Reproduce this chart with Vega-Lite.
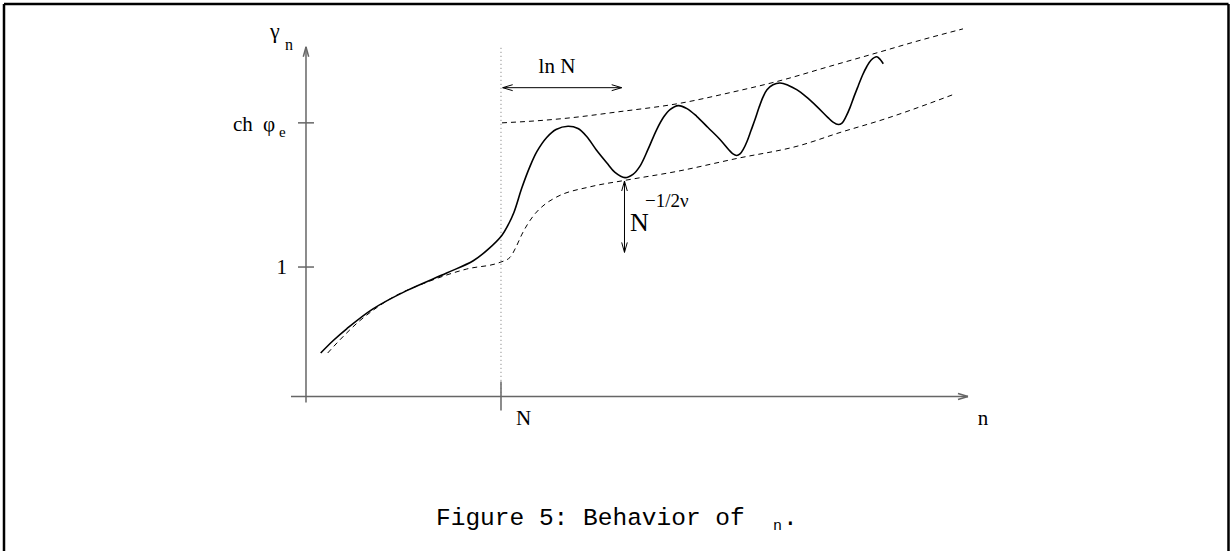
{
  "$schema": "https://vega.github.io/schema/vega-lite/v6.json",
  "width": 1230,
  "height": 553,
  "padding": 0,
  "autosize": {"type": "fit", "contains": "padding"},
  "background": "white",
  "config": {"view": {"stroke": null}},
  "datasets": {
    "curves": [
      {"s":"solid","n":0.0754,"g":0.3362},{"s":"solid","n":0.1385,"g":0.4308},{"s":"solid","n":0.2087,"g":0.5231},{"s":"solid","n":0.3436,"g":0.6769},{"s":"solid","n":0.5164,"g":0.8177},{"s":"solid","n":0.7215,"g":0.9538},{"s":"solid","n":0.8579,"g":1.0485},{"s":"solid","n":0.9349,"g":1.1385},{"s":"solid","n":1.0051,"g":1.2462},{"s":"solid","n":1.0359,"g":1.3231},{"s":"solid","n":1.0667,"g":1.4231},{"s":"solid","n":1.1062,"g":1.6077},{"s":"solid","n":1.1487,"g":1.7769},{"s":"solid","n":1.1846,"g":1.8923},{"s":"solid","n":1.2344,"g":2.0},{"s":"solid","n":1.2821,"g":2.0615},{"s":"solid","n":1.3436,"g":2.0869},{"s":"solid","n":1.3949,"g":2.0692},{"s":"solid","n":1.4395,"g":2.0077},{"s":"solid","n":1.4872,"g":1.9077},{"s":"solid","n":1.5421,"g":1.8054},{"s":"solid","n":1.5846,"g":1.7308},{"s":"solid","n":1.6359,"g":1.69},{"s":"solid","n":1.6769,"g":1.7154},{"s":"solid","n":1.7128,"g":1.7792},{"s":"solid","n":1.7538,"g":1.9077},{"s":"solid","n":1.7985,"g":2.0615},{"s":"solid","n":1.8359,"g":2.1615},{"s":"solid","n":1.8667,"g":2.2154},{"s":"solid","n":1.9092,"g":2.2462},{"s":"solid","n":1.9538,"g":2.2231},{"s":"solid","n":2.0036,"g":2.1638},{"s":"solid","n":2.0615,"g":2.0769},{"s":"solid","n":2.1231,"g":1.9846},{"s":"solid","n":2.1692,"g":1.9038},{"s":"solid","n":2.1897,"g":1.8731},{"s":"solid","n":2.2087,"g":1.8615},{"s":"solid","n":2.2256,"g":1.8731},{"s":"solid","n":2.2436,"g":1.9115},{"s":"solid","n":2.2615,"g":1.9692},{"s":"solid","n":2.2821,"g":2.0538},{"s":"solid","n":2.3026,"g":2.1385},{"s":"solid","n":2.3231,"g":2.2308},{"s":"solid","n":2.3436,"g":2.3115},{"s":"solid","n":2.3641,"g":2.3692},{"s":"solid","n":2.3949,"g":2.4077},{"s":"solid","n":2.4308,"g":2.4208},{"s":"solid","n":2.4718,"g":2.4038},{"s":"solid","n":2.5164,"g":2.3692},{"s":"solid","n":2.5641,"g":2.3154},{"s":"solid","n":2.619,"g":2.2408},{"s":"solid","n":2.6769,"g":2.1538},{"s":"solid","n":2.7026,"g":2.1192},{"s":"solid","n":2.7297,"g":2.1},{"s":"solid","n":2.7487,"g":2.1115},{"s":"solid","n":2.7692,"g":2.1615},{"s":"solid","n":2.7897,"g":2.2308},{"s":"solid","n":2.8103,"g":2.3154},{"s":"solid","n":2.8323,"g":2.4},{"s":"solid","n":2.8538,"g":2.4808},{"s":"solid","n":2.8754,"g":2.5462},{"s":"solid","n":2.8974,"g":2.5962},{"s":"solid","n":2.9267,"g":2.6231},{"s":"solid","n":2.9436,"g":2.6038},{"s":"solid","n":2.9605,"g":2.5692},
      {"s":"upper","n":1.0051,"g":2.1131},{"s":"upper","n":1.2,"g":2.1308},{"s":"upper","n":1.3436,"g":2.15},{"s":"upper","n":1.6103,"g":2.2},{"s":"upper","n":1.9077,"g":2.2615},{"s":"upper","n":2.1744,"g":2.3462},{"s":"upper","n":2.4308,"g":2.4385},{"s":"upper","n":2.6872,"g":2.55},{"s":"upper","n":2.9282,"g":2.6538},{"s":"upper","n":3.1487,"g":2.75},{"s":"upper","n":3.3692,"g":2.8385},
      {"s":"lower","n":0.1113,"g":0.3362},{"s":"lower","n":0.1744,"g":0.4385},{"s":"lower","n":0.2769,"g":0.5869},{"s":"lower","n":0.3538,"g":0.6769},{"s":"lower","n":0.4308,"g":0.7538},{"s":"lower","n":0.619,"g":0.8823},{"s":"lower","n":0.8241,"g":0.9846},{"s":"lower","n":0.9949,"g":1.0362},{"s":"lower","n":1.0462,"g":1.0746},{"s":"lower","n":1.0769,"g":1.1538},{"s":"lower","n":1.1077,"g":1.2538},{"s":"lower","n":1.1656,"g":1.3946},{"s":"lower","n":1.2256,"g":1.4846},{"s":"lower","n":1.2856,"g":1.5408},{"s":"lower","n":1.4564,"g":1.6192},{"s":"lower","n":1.6359,"g":1.6692},{"s":"lower","n":1.9026,"g":1.7385},{"s":"lower","n":2.2103,"g":1.8385},{"s":"lower","n":2.5333,"g":1.9385},{"s":"lower","n":2.7385,"g":2.0385},{"s":"lower","n":2.959,"g":2.1385},{"s":"lower","n":3.3179,"g":2.3308}
    ],
    "segs": [
      {"k":"axis","n":0,"g":-0.0462,"n2":0,"g2":2.7},
      {"k":"axis","n":-0.0138,"g":2.6231,"n2":0,"g2":2.7},
      {"k":"axis","n":0.0138,"g":2.6231,"n2":0,"g2":2.7},
      {"k":"axis","n":-0.0769,"g":0,"n2":3.3949,"g2":0},
      {"k":"axis","n":3.3436,"g":0.0231,"n2":3.3949,"g2":0},
      {"k":"axis","n":3.3436,"g":-0.0231,"n2":3.3949,"g2":0},
      {"k":"axis","n":-0.041,"g":1,"n2":0.041,"g2":1},
      {"k":"axis","n":-0.041,"g":2.1131,"n2":0.041,"g2":2.1131},
      {"k":"axis","n":1,"g":0.1154,"n2":1,"g2":-0.1077},
      {"k":"arrow","n":1.0087,"g":2.3846,"n2":1.619,"g2":2.3846},
      {"k":"arrow","n":1.06,"g":2.4077,"n2":1.0087,"g2":2.3846},
      {"k":"arrow","n":1.06,"g":2.3615,"n2":1.0087,"g2":2.3846},
      {"k":"arrow","n":1.5677,"g":2.4077,"n2":1.619,"g2":2.3846},
      {"k":"arrow","n":1.5677,"g":2.3615,"n2":1.619,"g2":2.3846},
      {"k":"arrow","n":1.6333,"g":1.6638,"n2":1.6333,"g2":1.1131},
      {"k":"arrow","n":1.619,"g":1.5869,"n2":1.6333,"g2":1.6638},
      {"k":"arrow","n":1.6477,"g":1.5869,"n2":1.6333,"g2":1.6638},
      {"k":"arrow","n":1.619,"g":1.19,"n2":1.6333,"g2":1.1131},
      {"k":"arrow","n":1.6477,"g":1.19,"n2":1.6333,"g2":1.1131},
      {"k":"dotted","n":1,"g":2.6923,"n2":1,"g2":0},
      {"k":"border","n":-1.5487,"g":3.0308,"n2":4.7308,"g2":3.0308},
      {"k":"border","n":-1.5487,"g":3.0308,"n2":-1.5487,"g2":-1.1923},
      {"k":"border","n":4.7308,"g":3.0308,"n2":4.7308,"g2":-1.1923}
    ],
    "labels": [
      {"f":"serifL","n":-0.1846,"g":2.7692,"sz":22,"t":"γ"},
      {"f":"serifL","n":-0.1077,"g":2.6769,"sz":16,"t":"n"},
      {"f":"serifL","n":-0.3744,"g":2.0538,"sz":21,"t":"ch"},
      {"f":"serifL","n":-0.2205,"g":2.0538,"sz":21,"t":"φ"},
      {"f":"serifL","n":-0.1385,"g":2.0077,"sz":15,"t":"e"},
      {"f":"serifL","n":1.0769,"g":-0.2231,"sz":21,"t":"N"},
      {"f":"serifL","n":1.6615,"g":1.2769,"sz":26,"t":"N"},
      {"f":"serifL","n":1.7385,"g":1.4615,"sz":19,"t":"−1/2ν"},
      {"f":"serifR","n":-0.0974,"g":0.9462,"sz":21,"t":"1"},
      {"f":"serifC","n":1.2872,"g":2.5,"sz":21,"t":"ln N"},
      {"f":"serifC","n":3.4718,"g":-0.2231,"sz":21,"t":"n"},
      {"f":"mono","n":0.6667,"g":-0.9923,"sz":24.5,"t":"Figure 5: Behavior of"},
      {"f":"mono","n":2.3949,"g":-1.0308,"sz":15,"t":"n"},
      {"f":"mono","n":2.4462,"g":-0.9923,"sz":24.5,"t":"."}
    ]
  },
  "encoding": {
    "x": {"field": "n", "type": "quantitative", "scale": {"domain": [-1.5692, 4.7385], "nice": false, "zero": false}, "axis": null},
    "y": {"field": "g", "type": "quantitative", "scale": {"domain": [-1.1923, 3.0615], "nice": false, "zero": false}, "axis": null}
  },
  "layer": [
    {
      "data": {"name": "segs"},
      "transform": [{"filter": "datum.k === 'border'"}],
      "mark": {"type": "rule", "color": "black", "strokeWidth": 2.5},
      "encoding": {"x2": {"field": "n2"}, "y2": {"field": "g2"}}
    },
    {
      "data": {"name": "segs"},
      "transform": [{"filter": "datum.k === 'axis'"}],
      "mark": {"type": "rule", "color": "#666666", "strokeWidth": 1.5},
      "encoding": {"x2": {"field": "n2"}, "y2": {"field": "g2"}}
    },
    {
      "data": {"name": "segs"},
      "transform": [{"filter": "datum.k === 'dotted'"}],
      "mark": {"type": "rule", "color": "#777777", "strokeWidth": 1, "strokeDash": [1, 3]},
      "encoding": {"x2": {"field": "n2"}, "y2": {"field": "g2"}}
    },
    {
      "data": {"name": "segs"},
      "transform": [{"filter": "datum.k === 'arrow'"}],
      "mark": {"type": "rule", "color": "black", "strokeWidth": 1},
      "encoding": {"x2": {"field": "n2"}, "y2": {"field": "g2"}}
    },
    {
      "data": {"name": "curves"},
      "transform": [{"filter": "datum.s !== 'solid'"}],
      "mark": {"type": "line", "color": "black", "strokeWidth": 1, "strokeDash": [5, 4], "interpolate": "monotone"},
      "encoding": {"detail": {"field": "s"}}
    },
    {
      "data": {"name": "curves"},
      "transform": [{"filter": "datum.s === 'solid'"}],
      "mark": {"type": "line", "color": "black", "strokeWidth": 1.6, "interpolate": "catmull-rom"},
      "encoding": {}
    },
    {
      "data": {"name": "labels"},
      "transform": [{"filter": "datum.f === 'serifL'"}],
      "mark": {"type": "text", "font": "Liberation Serif", "align": "left", "baseline": "alphabetic", "color": "black"},
      "encoding": {"text": {"field": "t"}, "size": {"field": "sz", "type": "quantitative", "scale": null}}
    },
    {
      "data": {"name": "labels"},
      "transform": [{"filter": "datum.f === 'serifR'"}],
      "mark": {"type": "text", "font": "Liberation Serif", "align": "right", "baseline": "alphabetic", "color": "black"},
      "encoding": {"text": {"field": "t"}, "size": {"field": "sz", "type": "quantitative", "scale": null}}
    },
    {
      "data": {"name": "labels"},
      "transform": [{"filter": "datum.f === 'serifC'"}],
      "mark": {"type": "text", "font": "Liberation Serif", "align": "center", "baseline": "alphabetic", "color": "black"},
      "encoding": {"text": {"field": "t"}, "size": {"field": "sz", "type": "quantitative", "scale": null}}
    },
    {
      "data": {"name": "labels"},
      "transform": [{"filter": "datum.f === 'mono'"}],
      "mark": {"type": "text", "font": "Liberation Mono", "align": "left", "baseline": "alphabetic", "color": "black"},
      "encoding": {"text": {"field": "t"}, "size": {"field": "sz", "type": "quantitative", "scale": null}}
    }
  ]
}
